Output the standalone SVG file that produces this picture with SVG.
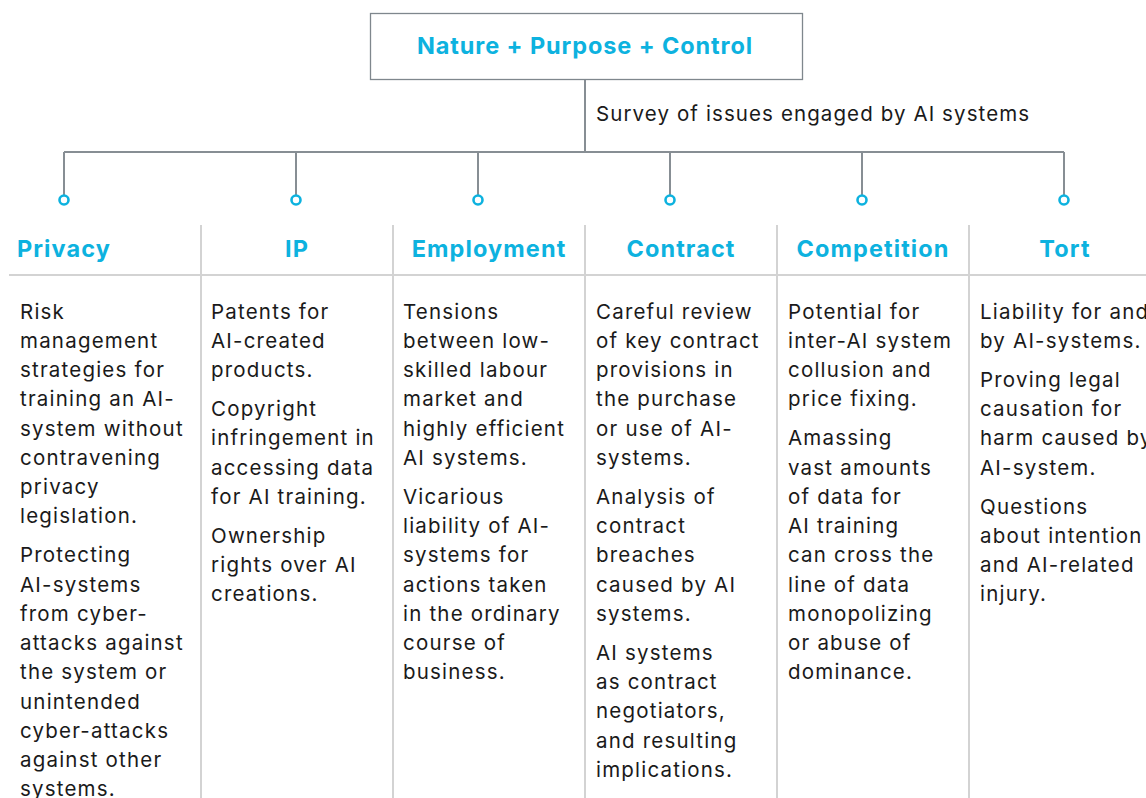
<svg xmlns="http://www.w3.org/2000/svg" width="1146" height="798" viewBox="0 0 1146 798">
<style>
.box{fill:#fff;stroke:#7f878d;stroke-width:1.3}
.conn{fill:none;stroke:#878e94;stroke-width:2}
.dot{fill:#fff;stroke:#0db2df;stroke-width:2.6}
.sep{stroke:#d3d3d3;stroke-width:2;fill:none}
.title{font-family:Inter,"Liberation Sans",sans-serif;font-weight:700;font-size:23.5px;letter-spacing:0.9px;fill:#0db2df}
.head{font-family:Inter,"Liberation Sans",sans-serif;font-weight:700;font-size:23.5px;letter-spacing:1.1px;fill:#0db2df;text-anchor:middle}
.body{font-family:Inter,"Liberation Sans",sans-serif;font-size:20.5px;letter-spacing:1.2px;fill:#1a1a1a}
</style>
<rect width="1146" height="798" fill="#fff"/>
<g id="table-lines">
<line class="sep" x1="9" y1="275" x2="1146" y2="275"/>
<line class="sep" x1="201" y1="225" x2="201" y2="798"/>
<line class="sep" x1="393" y1="225" x2="393" y2="798"/>
<line class="sep" x1="585" y1="225" x2="585" y2="798"/>
<line class="sep" x1="777" y1="225" x2="777" y2="798"/>
<line class="sep" x1="969" y1="225" x2="969" y2="798"/>
</g>
<g id="connectors">
<path class="conn" d="M585 80V152M64 152H1064M64 152V195M296 152V195M478 152V195M670 152V195M862 152V195M1064 152V195"/>
<text class="body" x="596" y="121" style="letter-spacing:1.1px">Survey of issues engaged by AI systems</text>
<circle class="dot" cx="64" cy="200" r="4.5"/>
<circle class="dot" cx="296" cy="200" r="4.5"/>
<circle class="dot" cx="478" cy="200" r="4.5"/>
<circle class="dot" cx="670" cy="200" r="4.5"/>
<circle class="dot" cx="862" cy="200" r="4.5"/>
<circle class="dot" cx="1064" cy="200" r="4.5"/>
</g>
<g id="root">
<rect class="box" x="370.5" y="13.5" width="432" height="66"/>
<text class="title" x="585" y="54" text-anchor="middle">Nature + Purpose + Control</text>
</g>
<g id="privacy">
<text class="head" x="64" y="257">Privacy</text>
<text class="body">
<tspan x="20" y="318.5">Risk</tspan>
<tspan x="20" y="347.75">management</tspan>
<tspan x="20" y="377">strategies for</tspan>
<tspan x="20" y="406.25">training an AI-</tspan>
<tspan x="20" y="435.5">system without</tspan>
<tspan x="20" y="464.75">contravening</tspan>
<tspan x="20" y="494">privacy</tspan>
<tspan x="20" y="523.25">legislation.</tspan>
<tspan x="20" y="562.25">Protecting</tspan>
<tspan x="20" y="591.5">AI-systems</tspan>
<tspan x="20" y="620.75">from cyber-</tspan>
<tspan x="20" y="650">attacks against</tspan>
<tspan x="20" y="679.25">the system or</tspan>
<tspan x="20" y="708.5">unintended</tspan>
<tspan x="20" y="737.75">cyber-attacks</tspan>
<tspan x="20" y="767">against other</tspan>
<tspan x="20" y="795.5">systems.</tspan>
</text>
</g>
<g id="ip">
<text class="head" x="297" y="257">IP</text>
<text class="body">
<tspan x="211" y="318.5">Patents for</tspan>
<tspan x="211" y="347.75">AI-created</tspan>
<tspan x="211" y="377">products.</tspan>
<tspan x="211" y="416">Copyright</tspan>
<tspan x="211" y="445.25">infringement in</tspan>
<tspan x="211" y="474.5">accessing data</tspan>
<tspan x="211" y="503.75">for AI training.</tspan>
<tspan x="211" y="542.75">Ownership</tspan>
<tspan x="211" y="572">rights over AI</tspan>
<tspan x="211" y="601.25">creations.</tspan>
</text>
</g>
<g id="employment">
<text class="head" x="489" y="257">Employment</text>
<text class="body">
<tspan x="403" y="318.5">Tensions</tspan>
<tspan x="403" y="347.75">between low-</tspan>
<tspan x="403" y="377">skilled labour</tspan>
<tspan x="403" y="406.25">market and</tspan>
<tspan x="403" y="435.5">highly efficient</tspan>
<tspan x="403" y="464.75">AI systems.</tspan>
<tspan x="403" y="503.75">Vicarious</tspan>
<tspan x="403" y="533">liability of AI-</tspan>
<tspan x="403" y="562.25">systems for</tspan>
<tspan x="403" y="591.5">actions taken</tspan>
<tspan x="403" y="620.75">in the ordinary</tspan>
<tspan x="403" y="650">course of</tspan>
<tspan x="403" y="679.25">business.</tspan>
</text>
</g>
<g id="contract">
<text class="head" x="681" y="257">Contract</text>
<text class="body">
<tspan x="596" y="318.5">Careful review</tspan>
<tspan x="596" y="347.75">of key contract</tspan>
<tspan x="596" y="377">provisions in</tspan>
<tspan x="596" y="406.25">the purchase</tspan>
<tspan x="596" y="435.5">or use of AI-</tspan>
<tspan x="596" y="464.75">systems.</tspan>
<tspan x="596" y="503.75">Analysis of</tspan>
<tspan x="596" y="533">contract</tspan>
<tspan x="596" y="562.25">breaches</tspan>
<tspan x="596" y="591.5">caused by AI</tspan>
<tspan x="596" y="620.75">systems.</tspan>
<tspan x="596" y="659.75">AI systems</tspan>
<tspan x="596" y="689">as contract</tspan>
<tspan x="596" y="718.25">negotiators,</tspan>
<tspan x="596" y="747.5">and resulting</tspan>
<tspan x="596" y="776.75">implications.</tspan>
</text>
</g>
<g id="competition">
<text class="head" x="873" y="257">Competition</text>
<text class="body">
<tspan x="788" y="318.5">Potential for</tspan>
<tspan x="788" y="347.75">inter-AI system</tspan>
<tspan x="788" y="377">collusion and</tspan>
<tspan x="788" y="406.25">price fixing.</tspan>
<tspan x="788" y="445.25">Amassing</tspan>
<tspan x="788" y="474.5">vast amounts</tspan>
<tspan x="788" y="503.75">of data for</tspan>
<tspan x="788" y="533">AI training</tspan>
<tspan x="788" y="562.25">can cross the</tspan>
<tspan x="788" y="591.5">line of data</tspan>
<tspan x="788" y="620.75">monopolizing</tspan>
<tspan x="788" y="650">or abuse of</tspan>
<tspan x="788" y="679.25">dominance.</tspan>
</text>
</g>
<g id="tort">
<text class="head" x="1065" y="257">Tort</text>
<text class="body">
<tspan x="980" y="318.5">Liability for and</tspan>
<tspan x="980" y="347.75">by AI-systems.</tspan>
<tspan x="980" y="386.75">Proving legal</tspan>
<tspan x="980" y="416">causation for</tspan>
<tspan x="980" y="445.25">harm caused by</tspan>
<tspan x="980" y="474.5">AI-system.</tspan>
<tspan x="980" y="513.5">Questions</tspan>
<tspan x="980" y="542.75">about intention</tspan>
<tspan x="980" y="572">and AI-related</tspan>
<tspan x="980" y="601.25">injury.</tspan>
</text>
</g>
</svg>
